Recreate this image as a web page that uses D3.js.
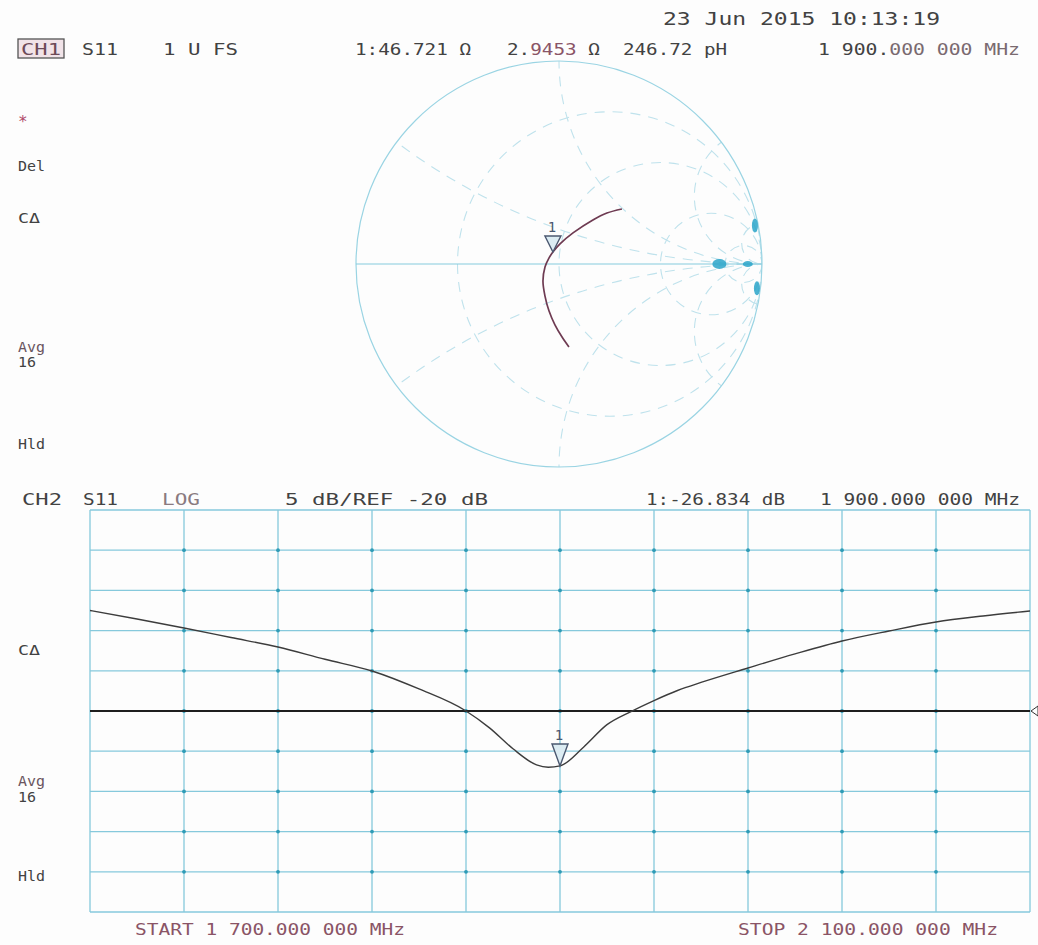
<!DOCTYPE html>
<html>
<head>
<meta charset="utf-8">
<script src="https://cdn.jsdelivr.net/npm/d3@7"></script>
<style>
  body { margin: 0; background: #fdfdfd; }
  svg text { font-family: "DejaVu Sans Mono", "Liberation Mono", monospace; }
</style>
</head>
<body>
<div id="chart"></div>
<script>
// ---- data ----

// CH1 smith trace, reflection coefficient (re, im), start -> stop
var smithRe = [0.049, 0.015, -0.020, -0.049, -0.069, -0.079, -0.069, -0.049, -0.030, 0.005, 0.069, 0.167, 0.236, 0.310];
var smithIm = [-0.409, -0.360, -0.300, -0.232, -0.158, -0.084, -0.015, 0.030, 0.059, 0.099, 0.153, 0.217, 0.251, 0.271];
var smithMarker = [-0.030, 0.059];

// grid of the smith chart (normalised r and x values)
var rCircles = [1/3, 1, 3, 10];
var xArcs = [1/3, 1, 3, 10, -1/3, -1, -3, -10];
// ink build-up where the dashed grid converges near the right edge
var blobRe = [0.79, 0.93, 0.965, 0.975];
var blobIm = [0.0, 0.0, 0.19, -0.12];

// CH2 log mag trace
var freqs = [1700, 1720, 1740, 1760, 1780, 1800, 1820, 1840, 1860, 1870, 1880, 1890, 1895, 1900, 1910, 1920, 1930, 1940, 1950, 1960, 1980, 2000, 2020, 2040, 2060, 2080, 2100];
var dbVals = [-7.5, -8.56, -9.68, -10.86, -12.04, -13.57, -15.02, -17.26, -20.0, -22.1, -24.7, -26.7, -27.0, -26.83, -24.5, -21.7, -20.1, -18.7, -17.45, -16.45, -14.65, -12.9, -11.29, -10.05, -8.93, -8.18, -7.56];
var markerFreq = 1900, markerDb = -26.834;
var refDb = -20, dbPerDiv = 5;

// ---- page ----
var W = 1038, H = 945;
var ink = "#424242", pink = "#8a5466", gridCol = "#86c9dc", dotCol = "#2f9bb6";

var svg = d3.select("#chart").append("svg")
  .attr("width", W).attr("height", H);

svg.append("rect").attr("width", W).attr("height", H).attr("fill", "#fdfdfd");

function txt(x, y, s, len, opts){
  opts = opts || {};
  var t = svg.append("text")
    .attr("x", x).attr("y", y)
    .attr("font-size", opts.size || 15)
    .attr("fill", opts.fill || ink)
    .text(s);
  if(len){ t.attr("textLength", len).attr("lengthAdjust", "spacingAndGlyphs"); }
  if(opts.anchor) t.attr("text-anchor", opts.anchor);
  return t;
}

// ---------- smith chart ----------
var cx = 559, cy = 264, R = 203;
var gx = d3.scaleLinear().domain([-1, 1]).range([cx - R, cx + R]);
var gy = d3.scaleLinear().domain([-1, 1]).range([cy + R, cy - R]);

svg.append("clipPath").attr("id", "unit")
  .append("circle").attr("cx", cx).attr("cy", cy).attr("r", R);

var sg = svg.append("g");
var dashed = sg.append("g").attr("clip-path", "url(#unit)")
  .attr("fill", "none").attr("stroke", "#bfe2ec")
  .attr("stroke-width", 1.1).attr("stroke-dasharray", "10,8");

dashed.selectAll("circle.r").data(rCircles).enter().append("circle")
  .attr("class", "r")
  .attr("cx", function(r){ return gx(r / (1 + r)); })
  .attr("cy", gy(0))
  .attr("r", function(r){ return gx(1 / (1 + r)) - gx(0); });

dashed.selectAll("circle.x").data(xArcs).enter().append("circle")
  .attr("class", "x")
  .attr("cx", gx(1))
  .attr("cy", function(x){ return gy(1 / x); })
  .attr("r", function(x){ return gx(1 / Math.abs(x)) - gx(0); });

// outer circle + real axis
sg.append("circle").attr("cx", cx).attr("cy", cy).attr("r", R)
  .attr("fill", "none").attr("stroke", "#9ad4e3").attr("stroke-width", 1.2);
sg.append("line")
  .attr("x1", gx(-1)).attr("x2", gx(1)).attr("y1", gy(0)).attr("y2", gy(0))
  .attr("stroke", "#86cbdd").attr("stroke-width", 1.2);

sg.selectAll("ellipse").data(blobRe).enter().append("ellipse")
  .attr("cx", function(d){ return gx(d); })
  .attr("cy", function(d, i){ return gy(blobIm[i]); })
  .attr("rx", function(d, i){ return i < 2 ? (i == 0 ? 7 : 5) : 3; })
  .attr("ry", function(d, i){ return i < 2 ? (i == 0 ? 5 : 3) : 7; })
  .attr("fill", "#2aa4c9").attr("opacity", 0.85);

var smithPts = smithRe.map(function(d, i){ return [gx(d), gy(smithIm[i])]; });
sg.append("path")
  .attr("d", d3.line().curve(d3.curveCatmullRom)(smithPts))
  .attr("fill", "none").attr("stroke", "#6e3b52").attr("stroke-width", 1.7);

function markerTri(px, py, h, hw){
  var g = svg.append("g");
  g.append("path")
    .attr("d", "M" + px + "," + py + "L" + (px - hw) + "," + (py - h) + "L" + (px + hw) + "," + (py - h) + "Z")
    .attr("fill", "#dcecf3").attr("stroke", "#4b5870").attr("stroke-width", 1.4);
  g.append("text").attr("x", px - 1).attr("y", py - h - 4)
    .attr("text-anchor", "middle").attr("font-size", 14).attr("fill", "#4b5870").text("1");
}
markerTri(gx(smithMarker[0]), gy(smithMarker[1]), 16, 8);

// ---------- log mag grid ----------
var x0 = 90, x1 = 1030, y0 = 510, y1 = 912;
var xs = d3.scaleLinear().domain([freqs[0], freqs[freqs.length - 1]]).range([x0, x1]);
var ys = d3.scaleLinear().domain([refDb - 5 * dbPerDiv, refDb + 5 * dbPerDiv]).range([y1, y0]);

var xTicks = d3.range(0, 11).map(function(i){ return 1700 + i * 40; });
var yTicks = d3.range(0, 11).map(function(i){ return refDb - 25 + i * dbPerDiv; });

var grid = svg.append("g").attr("stroke", gridCol).attr("stroke-width", 1.3);
grid.selectAll("line.v").data(xTicks).enter().append("line")
  .attr("x1", function(d){ return xs(d); }).attr("x2", function(d){ return xs(d); })
  .attr("y1", y0).attr("y2", y1);
grid.selectAll("line.h").data(yTicks).enter().append("line")
  .attr("y1", function(d){ return ys(d); }).attr("y2", function(d){ return ys(d); })
  .attr("x1", x0).attr("x2", x1);

var dots = [];
xTicks.slice(1, -1).forEach(function(f){
  yTicks.slice(1, -1).forEach(function(v){ dots.push([f, v]); });
});
svg.append("g").selectAll("circle").data(dots).enter().append("circle")
  .attr("cx", function(d){ return xs(d[0]); })
  .attr("cy", function(d){ return ys(d[1]); })
  .attr("r", 1.9).attr("fill", dotCol);

// reference line
svg.append("line")
  .attr("x1", x0).attr("x2", x1).attr("y1", ys(refDb)).attr("y2", ys(refDb))
  .attr("stroke", "#1e1e1e").attr("stroke-width", 2);
svg.append("path")
  .attr("d", "M" + (x1 + 1) + "," + ys(refDb) + "l7,-5v10z")
  .attr("fill", "none").attr("stroke", "#333").attr("stroke-width", 1);

svg.append("path")
  .attr("d", d3.line().curve(d3.curveMonotoneX)
    .x(function(d, i){ return xs(freqs[i]); })
    .y(function(d){ return ys(d); })(dbVals))
  .attr("fill", "none").attr("stroke", "#3c3c3c").attr("stroke-width", 1.4);

markerTri(xs(markerFreq), ys(markerDb), 22, 8);

// ---------- annotation text ----------
txt(663, 25, "23 Jun 2015  10:13:19", 277, {size: 17});

svg.append("rect").attr("x", 18).attr("y", 39).attr("width", 46).attr("height", 19)
  .attr("fill", "#f1e3e8").attr("stroke", "#555").attr("stroke-width", 1.3);
txt(21, 55, "CH1", 40, {fill: "#6d4a58"});
txt(82, 55, "S11", 36);
txt(163, 55, "1 U FS", 75);
txt(355, 55, "1:46.721 Ω", 116);
var t2 = txt(507, 55, "", 93);
t2.append("tspan").text("2.");
t2.append("tspan").attr("fill", pink).text("9453");
t2.append("tspan").text(" Ω");
txt(623, 55, "246.72 pH", 104);
var t3 = txt(818, 55, "", 202);
t3.append("tspan").text("1 900.");
t3.append("tspan").attr("fill", "#7a6a70").text("000 000 MHz");

// channel 1 side labels
txt(18, 127, "*", null, {size: 16, fill: "#b04a6a"});
txt(18, 171, "Del", 27, {size: 14});
txt(18, 223, "CΔ", 22, {size: 14});
txt(18, 352, "Avg", 27, {size: 14, fill: "#6a5560"});
txt(18, 367, "16", 18, {size: 14});
txt(18, 449, "Hld", 27, {size: 14});

// channel 2 header
txt(22, 505, "CH2", 40);
txt(83, 505, "S11", 35);
txt(162, 505, "LOG", 38, {fill: "#8a7a80"});
txt(285, 505, "5 dB/REF -20 dB", 203);
txt(646, 505, "1:-26.834 dB", 139);
txt(820, 505, "1 900.000 000 MHz", 200);

txt(18, 655, "CΔ", 22, {size: 14});
txt(18, 786, "Avg", 27, {size: 14, fill: "#6a5560"});
txt(18, 802, "16", 18, {size: 14});
txt(18, 881, "Hld", 27, {size: 14});

txt(135, 935, "START 1 700.000 000 MHz", 270, {fill: pink});
txt(738, 935, "STOP 2 100.000 000 MHz", 260, {fill: pink});
</script>
</body>
</html>
